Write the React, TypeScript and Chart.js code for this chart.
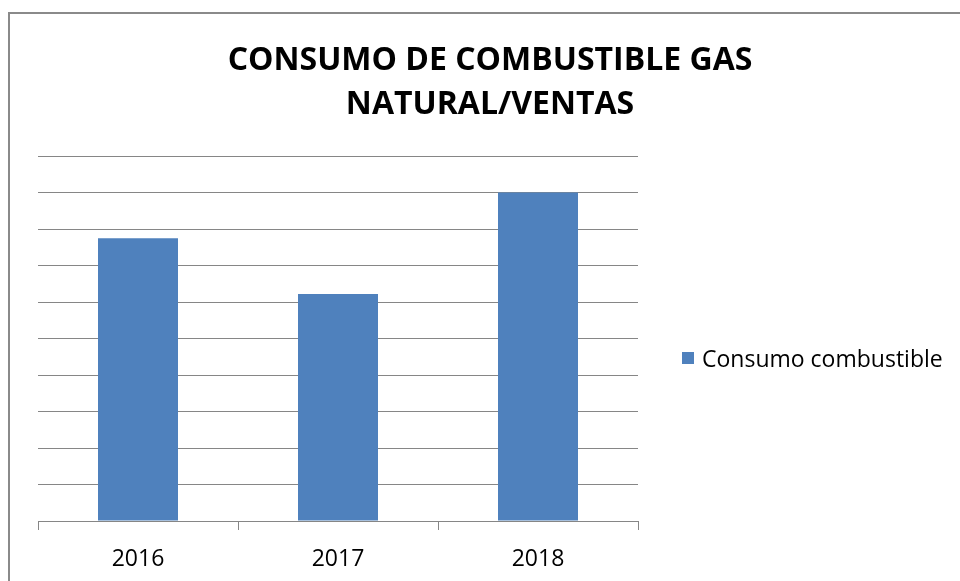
import React, { useEffect, useRef } from "react";
import { Chart, registerables } from "chart.js";

Chart.register(...registerables);

const categories: string[] = ["2016", "2017", "2018"];
const seriesName = "Consumo combustible";
const consumoValues: number[] = [7.75, 6.22, 9.0];
const titleLines: string[] = ["CONSUMO DE COMBUSTIBLE GAS", "NATURAL/VENTAS"];

const FONT = "'Open Sans', 'Liberation Sans', sans-serif";
const GRID = "#868686";
const BAR = "#4F81BD";

export default function App() {
  const ref = useRef<HTMLCanvasElement | null>(null);

  useEffect(() => {
    if (!ref.current) return;
    const chart = new Chart(ref.current, {
      type: "bar",
      data: {
        labels: categories,
        datasets: [
          {
            label: seriesName,
            data: consumoValues,
            backgroundColor: BAR,
            borderWidth: 0,
            barPercentage: 0.4,
            categoryPercentage: 1.0,
          },
        ],
      },
      options: {
        animation: false,
        responsive: false,
        devicePixelRatio: 1,
        layout: { padding: { left: 38, right: 322, top: 156, bottom: 0 } },
        plugins: {
          tooltip: { enabled: false },
          title: { display: false },
          legend: { display: false },
        },
        scales: {
          x: {
            afterFit: (scale: any) => {
              scale.height = 60;
            },
            grid: {
              display: true,
              drawOnChartArea: false,
              drawTicks: true,
              tickLength: 9,
              tickColor: GRID,
              offset: true,
            },
            border: { display: true, color: GRID, width: 1 },
            ticks: { color: "#000", font: { family: FONT, size: 23, lineHeight: 1.0 }, padding: 18 },
          },
          y: {
            min: 0,
            max: 10,
            ticks: { display: false, stepSize: 1 },
            grid: { color: GRID, drawTicks: false, lineWidth: 1 },
            border: { display: false },
          },
        },
      },
    });
    return () => chart.destroy();
  }, []);

  return (
    <div style={{ position: "fixed", left: 0, top: 0, width: 960, height: 581, overflow: "hidden", background: "#fff" }}>
      <div
        style={{
          position: "absolute",
          left: 8,
          top: 12,
          width: 2000,
          height: 2000,
          borderLeft: "2px solid #8a8a8a",
          borderTop: "2px solid #8a8a8a",
        }}
      />
      <canvas ref={ref} width={960} height={581} style={{ position: "absolute", left: 0, top: 0, width: 960, height: 581 }} />
      <div
        style={{
          position: "absolute",
          left: 20,
          top: 36,
          width: 940,
          textAlign: "center",
          fontFamily: FONT,
          fontWeight: 700,
          fontSize: 32,
          lineHeight: "44px",
          color: "#000",
        }}
      >
        {titleLines.map((t) => (
          <div key={t}>{t}</div>
        ))}
      </div>
      <div
        style={{
          position: "absolute",
          left: 682,
          top: 346,
          height: 24,
          display: "flex",
          alignItems: "center",
          fontFamily: FONT,
          fontSize: 23,
          lineHeight: "24px",
          color: "#000",
          whiteSpace: "nowrap",
        }}
      >
        <span style={{ display: "inline-block", width: 12, height: 12, background: BAR, marginRight: 8 }} />
        <span>{seriesName}</span>
      </div>
    </div>
  );
}
